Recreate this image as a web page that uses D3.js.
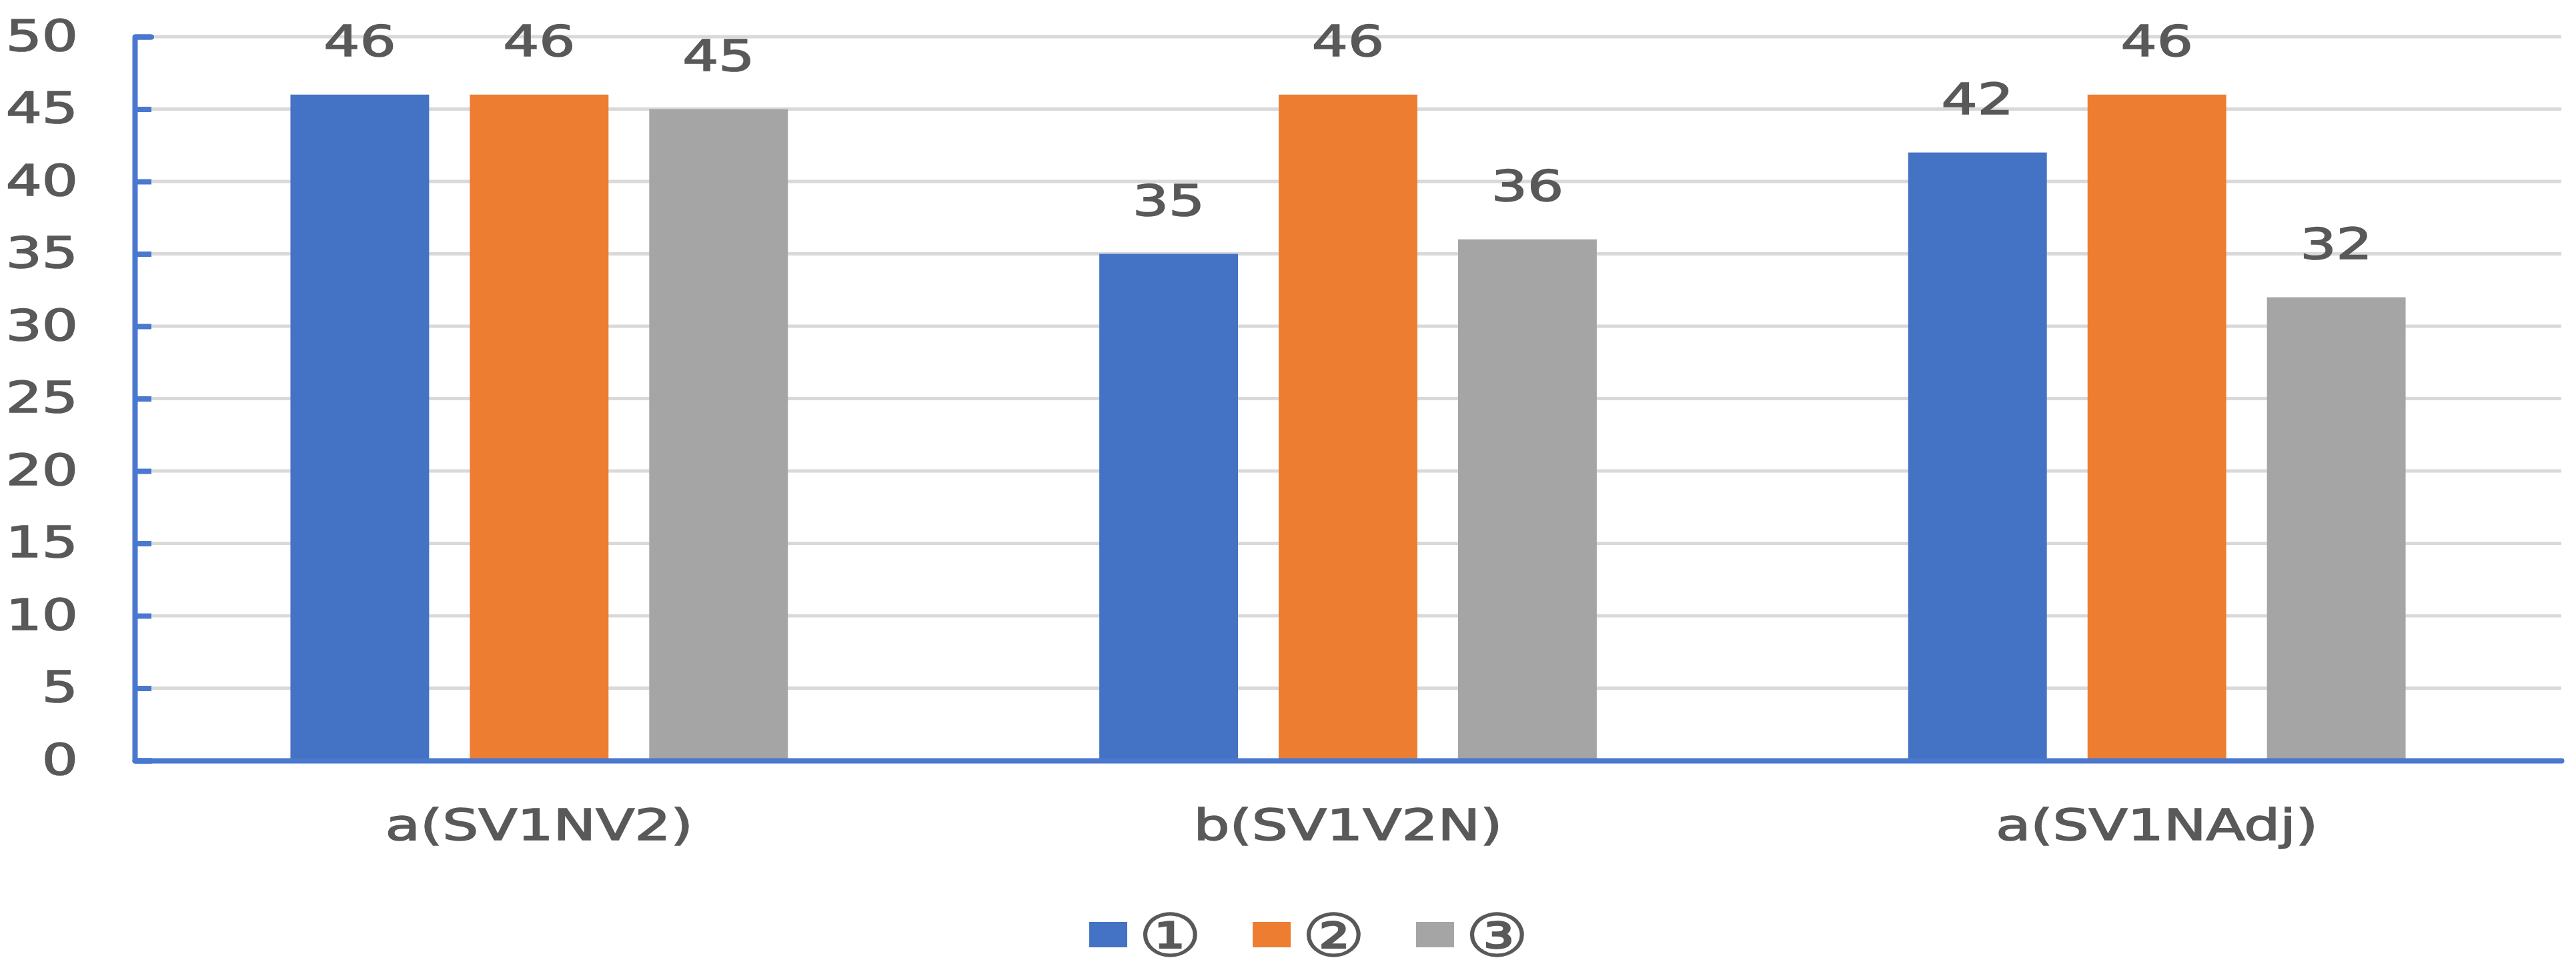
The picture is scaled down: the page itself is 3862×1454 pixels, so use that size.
<!DOCTYPE html>
<html>
<head>
<meta charset="utf-8">
<script src="https://cdn.jsdelivr.net/npm/d3@7"></script>
<style>
  body { margin: 0; background: #fff; }
  svg { display: block; }
  text { font-family: "DejaVu Sans", sans-serif; fill: #595959; stroke: #595959; stroke-width: 1.6px; }
</style>
</head>
<body>
<div class="chart-wrapper"></div>
<script>
// categories and series
var categories = ["a(SV1NV2)", "b(SV1V2N)", "a(SV1NAdj)"];
var seriesNames = ["①", "②", "③"];
var series1 = [46, 35, 42];
var series2 = [46, 46, 46];
var series3 = [45, 36, 32];
var yTicks = [0, 5, 10, 15, 20, 25, 30, 35, 40, 45, 50];
var colors = ["#4472C4", "#ED7D31", "#A5A5A5"];

var width = 3862, height = 1454;
// plot edges (note: "top" is a reserved window global, so use other names)
var plotLeft = 202, plotRight = 3840, plotTop = 55, plotBottom = 1140;
var stretch = "scale(1.33,1)";   // the picture is stretched sideways
var fontSize = 64;

var svg = d3.select(".chart-wrapper").append("svg")
  .attr("width", width)
  .attr("height", height);

var x0 = d3.scaleBand().domain(categories).range([plotLeft, plotRight]).padding(0);
var x1 = d3.scaleBand().domain(seriesNames).range([0, x0.bandwidth()])
  .paddingInner(0.227).paddingOuter(0.868);
var y = d3.scaleLinear().domain([0, 50]).range([plotBottom, plotTop]);

// gridlines
svg.append("g")
  .selectAll("line")
  .data(yTicks.filter(function(d) { return d > 0; }))
  .enter().append("line")
  .attr("x1", plotLeft).attr("x2", plotRight)
  .attr("y1", function(d) { return y(d); })
  .attr("y2", function(d) { return y(d); })
  .attr("stroke", "#d9d9d9")
  .attr("stroke-width", 5);

// rows of data per category
var rows = categories.map(function(c, i) {
  return { cat: c, vals: [series1[i], series2[i], series3[i]] };
});

var group = svg.selectAll(".grp")
  .data(rows)
  .enter().append("g")
  .attr("class", "grp")
  .attr("transform", function(d) { return "translate(" + x0(d.cat) + ",0)"; });

var cells = group.selectAll(".bar")
  .data(function(d) {
    return d.vals.map(function(v, j) { return { key: seriesNames[j], value: v, j: j }; });
  })
  .enter();

cells.append("rect")
  .attr("class", "bar")
  .attr("x", function(d) { return x1(d.key); })
  .attr("width", x1.bandwidth())
  .attr("y", function(d) { return y(d.value); })
  .attr("height", function(d) { return y(0) - y(d.value); })
  .attr("fill", function(d) { return colors[d.j]; });

// value labels
cells.append("text")
  .attr("text-anchor", "middle")
  .attr("font-size", fontSize)
  .attr("transform", function(d) {
    return "translate(" + (x1(d.key) + x1.bandwidth() / 2) + "," + (y(d.value) - 58) + ") " + stretch;
  })
  .text(function(d) { return d.value; });

// y axis (ticks pointing inward)
var yAxis = svg.append("g")
  .attr("transform", "translate(" + plotLeft + ",0)")
  .call(d3.axisLeft(y).tickValues(yTicks).tickSizeInner(-25).tickSizeOuter(-25));

yAxis.select(".domain")
  .attr("stroke", "#4a78cf").attr("stroke-width", 8)
  .attr("stroke-linejoin", "round").attr("stroke-linecap", "round");
yAxis.selectAll(".tick line")
  .attr("stroke", "#4a78cf").attr("stroke-width", 8);
yAxis.selectAll(".tick text")
  .attr("x", 0)
  .attr("font-size", fontSize)
  .attr("font-family", "DejaVu Sans")
  .attr("fill", "#595959")
  .attr("transform", "translate(-85,0) " + stretch);

// x axis
var xAxis = svg.append("g")
  .attr("transform", "translate(0," + plotBottom + ")")
  .call(d3.axisBottom(x0).tickSize(0).tickSizeOuter(0));

xAxis.select(".domain")
  .attr("stroke", "#4a78cf").attr("stroke-width", 8)
  .attr("stroke-linecap", "round");
xAxis.selectAll(".tick text")
  .attr("y", 0).attr("dy", null)
  .attr("font-size", fontSize)
  .attr("font-family", "DejaVu Sans")
  .attr("fill", "#595959")
  .attr("transform", "translate(0,119) " + stretch);

// legend
var legend = svg.append("g").selectAll(".legend")
  .data(seriesNames)
  .enter().append("g")
  .attr("class", "legend")
  .attr("transform", function(d, i) { return "translate(" + (1633 + i * 245) + ",1382)"; });

legend.append("rect")
  .attr("width", 57).attr("height", 38)
  .attr("fill", function(d, i) { return colors[i]; });

legend.append("text")
  .attr("font-size", 88)
  .attr("font-family", "Noto Sans CJK SC")
  .attr("stroke-width", 0)
  .attr("fill", "#555")
  .attr("dy", "0.36em")
  .attr("transform", "translate(74,19) scale(1.2,1)")
  .text(function(d) { return d; });
</script>
</body>
</html>
